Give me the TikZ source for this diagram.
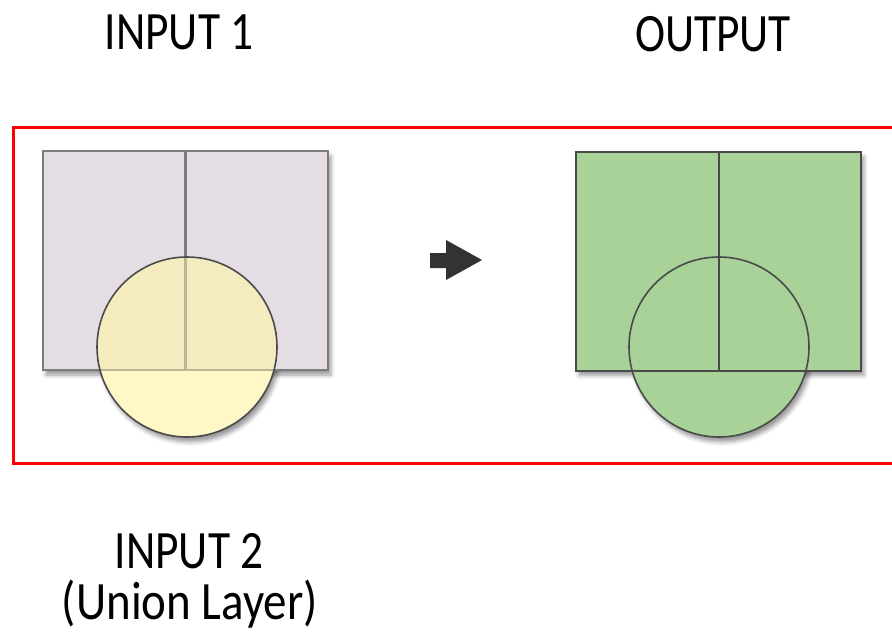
\documentclass[tikz,border=0pt]{standalone}
\usepackage{fontspec}
\setmainfont{Carlito}
\usetikzlibrary{shadows.blur}

\definecolor{lavender}{HTML}{E4DDE4}
\definecolor{paleyellow}{HTML}{FFF7C6}
\definecolor{overlapyellow}{HTML}{F4ECBF}
\definecolor{leafgreen}{HTML}{A8D297}
\definecolor{edgegray}{HTML}{7E7A7E}
\definecolor{edgefaint}{HTML}{BDB598}
\definecolor{edgedark}{HTML}{4A4A4A}
\definecolor{arrowgray}{HTML}{333333}

\tikzset{
  label/.style={font=\fontsize{54}{60}\selectfont, inner sep=0pt, anchor=base},
  dropshadow/.style={blur shadow={shadow xshift=3pt, shadow yshift=-5pt,
      shadow blur radius=4pt, shadow opacity=40}},
  rectshape/.style={rectangle, minimum width=285pt, minimum height=219pt,
      inner sep=0pt, outer sep=0pt},
  circshape/.style={circle, minimum size=180pt, inner sep=0pt, outer sep=0pt},
}

\newcommand{\narrow}[1]{\scalebox{0.84}[1]{#1}}

\begin{document}
\begin{tikzpicture}[x=1pt, y=-1pt]
  \useasboundingbox (0,0) rectangle (892,634);

  % red frame, open past the right edge
  \draw[red, line width=3pt] (905,127) -- (13,127) -- (13,463) -- (905,463);

  % ---- first input: split rectangle with the union circle on top
  \node[circshape, fill=paleyellow, dropshadow] (c1s) at (187,347) {};
  \node[rectshape, fill=lavender, draw=edgegray, line width=2.4pt, dropshadow]
    (r1) at (185.5,260.5) {};
  \draw[edgegray, line width=2.4pt] (r1.north) -- (r1.south);
  \node[circshape, fill=paleyellow] (c1) at (187,347) {};
  % part of the circle lying over the rectangle
  \begin{scope}
    \clip (187,347) circle[radius=90pt];
    \fill[overlapyellow] (r1.north west) rectangle (r1.south east);
    \draw[edgefaint, line width=2.4pt]
      (r1.south west) -- (r1.south east) (r1.north) -- (r1.south);
  \end{scope}
  \node[circshape, draw=edgedark, line width=1.6pt] at (c1.center) {};

  % ---- arrow
  \fill[arrowgray] (430,253) -- (446,253) -- (446,240) -- (482,260)
    -- (446,280) -- (446,268) -- (430,268) -- cycle;

  % ---- output: union result
  \node[circshape, fill=leafgreen, dropshadow] (c2s) at (719,347) {};
  \node[rectshape, fill=leafgreen, dropshadow] (r2) at (718.5,261) {};
  \node[circshape, fill=leafgreen] (c2) at (719,347) {};
  \node[rectshape, draw=edgedark, line width=2pt] at (r2.center) {};
  \draw[edgedark, line width=2pt] (r2.north) -- (r2.south);
  \node[circshape, draw=edgedark, line width=1.6pt] at (c2.center) {};

  % ---- labels
  \node[label] (in1) at (179,50) {\narrow{INPUT 1}};
  \node[label] (out) at (713,52) {\narrow{OUTPUT}};
  \node[label] (in2) at (189,568) {\narrow{INPUT 2}};
  \node[label] (uni) at (190,619) {\scalebox{0.87}[1]{(Union Layer)}};
\end{tikzpicture}
\end{document}
